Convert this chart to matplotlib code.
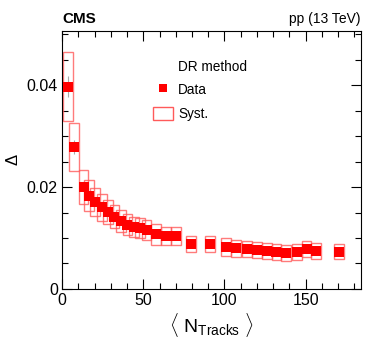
import numpy as np
import matplotlib
matplotlib.use('Agg')
import matplotlib.pyplot as plt
import matplotlib.ticker as mticker
from matplotlib.patches import Rectangle
from matplotlib.lines import Line2D

plt.rcParams.update({
    'font.family': ['Liberation Sans', 'DejaVu Sans'],
    'mathtext.fontset': 'custom',
    'mathtext.rm': 'Liberation Sans',
    'mathtext.it': 'Liberation Sans:italic',
    'xtick.direction': 'in', 'ytick.direction': 'in',
    'xtick.top': True, 'ytick.right': True,
})

# mean number of tracks per bin
n_tracks = [3.7, 7.6, 13.3, 16.6, 20.5, 24.5, 28.5, 32.3, 36.3, 40.3, 44.3, 48.0,
            52.0, 58.0, 64.0, 70.0, 79.5, 91.0, 101.0, 107.0, 114.0, 120.0, 126.0,
            132.0, 138.0, 144.5, 150.5, 156.5, 170.5]
delta = [0.0397, 0.0279, 0.0200, 0.0183, 0.0171, 0.0160, 0.0151, 0.0142, 0.0133,
         0.0126, 0.0121, 0.0120, 0.0116, 0.0107, 0.0104, 0.0104, 0.0088, 0.0088,
         0.0082, 0.0080, 0.0078, 0.0077, 0.0075, 0.0072, 0.0070, 0.0073, 0.0078,
         0.0074, 0.0073]
stat = [0.0021, 0.0014, 0.0006, 0.0005, 0.0005, 0.0005, 0.0004, 0.0004, 0.0004,
        0.0004, 0.0004, 0.0004, 0.0004, 0.0004, 0.0004, 0.0004, 0.0004, 0.0004,
        0.0004, 0.0004, 0.0004, 0.0004, 0.0004, 0.0004, 0.0004, 0.0004, 0.0004,
        0.0004, 0.0004]
syst = [0.0067, 0.0047, 0.0033, 0.0030, 0.0028, 0.0026, 0.0024, 0.0023, 0.0022,
        0.0021, 0.0020, 0.0020, 0.0020, 0.0020, 0.0018, 0.0017, 0.0016, 0.0016,
        0.0018, 0.0017, 0.0016, 0.0016, 0.0016, 0.0016, 0.0016, 0.0016, 0.0016,
        0.0016, 0.0015]
half_width = 3.0

C_RED = '#ff0000'
C_SYS = '#ff5a5a'

fig = plt.figure(figsize=(3.74, 3.57), dpi=100)
ax = fig.add_axes([0.1658, 0.1905, 0.7994, 0.7227])

for x, y, s in zip(n_tracks, delta, syst):
    ax.add_patch(Rectangle((x - half_width, y - s), 2 * half_width, 2 * s,
                           facecolor='none', edgecolor=C_SYS, linewidth=1.0,
                           alpha=0.8, zorder=2))

ax.errorbar(n_tracks, delta, yerr=stat, fmt='none', ecolor='#aaaaaa',
            elinewidth=0.8, capsize=0, zorder=2.5)
ax.plot(n_tracks, delta, linestyle='none', marker='s', markersize=7.4,
        color=C_RED, markeredgewidth=0, zorder=3)

ax.set_xlim(0, 184)
ax.set_ylim(0, 0.0506)
ax.xaxis.set_major_locator(mticker.MultipleLocator(50))
ax.xaxis.set_minor_locator(mticker.MultipleLocator(10))
ax.yaxis.set_major_locator(mticker.MultipleLocator(0.02))
ax.yaxis.set_minor_locator(mticker.MultipleLocator(0.005))
ax.yaxis.set_major_formatter(mticker.FuncFormatter(lambda v, p: '0' if v == 0 else f'{v:.2f}'))
ax.tick_params(which='major', length=7, width=0.8, labelsize=11.5, pad=3)
ax.tick_params(which='minor', length=4, width=0.8)
for sp in ax.spines.values():
    sp.set_linewidth(0.8)

ax.set_xlabel(r'$\langle\ \mathrm{N}_{\mathrm{Tracks}}\ \rangle$', fontsize=14, labelpad=2)
fig.text(0.035, 0.552, '\u0394', rotation=90, fontsize=12, ha='center', va='center')

ax.text(0, 1.02, 'CMS', transform=ax.transAxes, fontsize=11, fontweight='bold',
        ha='left', va='bottom')
ax.text(1, 1.02, 'pp (13 TeV)', transform=ax.transAxes, fontsize=10,
        ha='right', va='bottom')

ax.text(0.388, 0.860, 'DR method', transform=ax.transAxes, fontsize=9.8,
        ha='left', va='center')
handles = [Line2D([], [], linestyle='none', marker='s', markersize=6,
                  color=C_RED, markeredgewidth=0),
           Rectangle((0, 0), 1, 1, facecolor='none', edgecolor=C_SYS, linewidth=1.0)]
ax.legend(handles, ['Data', 'Syst.'], loc='upper left',
          bbox_to_anchor=(0.304, 0.80), frameon=False, fontsize=9.8,
          handlelength=1.47, handleheight=1.1, handletextpad=0.37,
          labelspacing=0.73, borderpad=0, borderaxespad=0)

plt.savefig('out.png', dpi=100)
